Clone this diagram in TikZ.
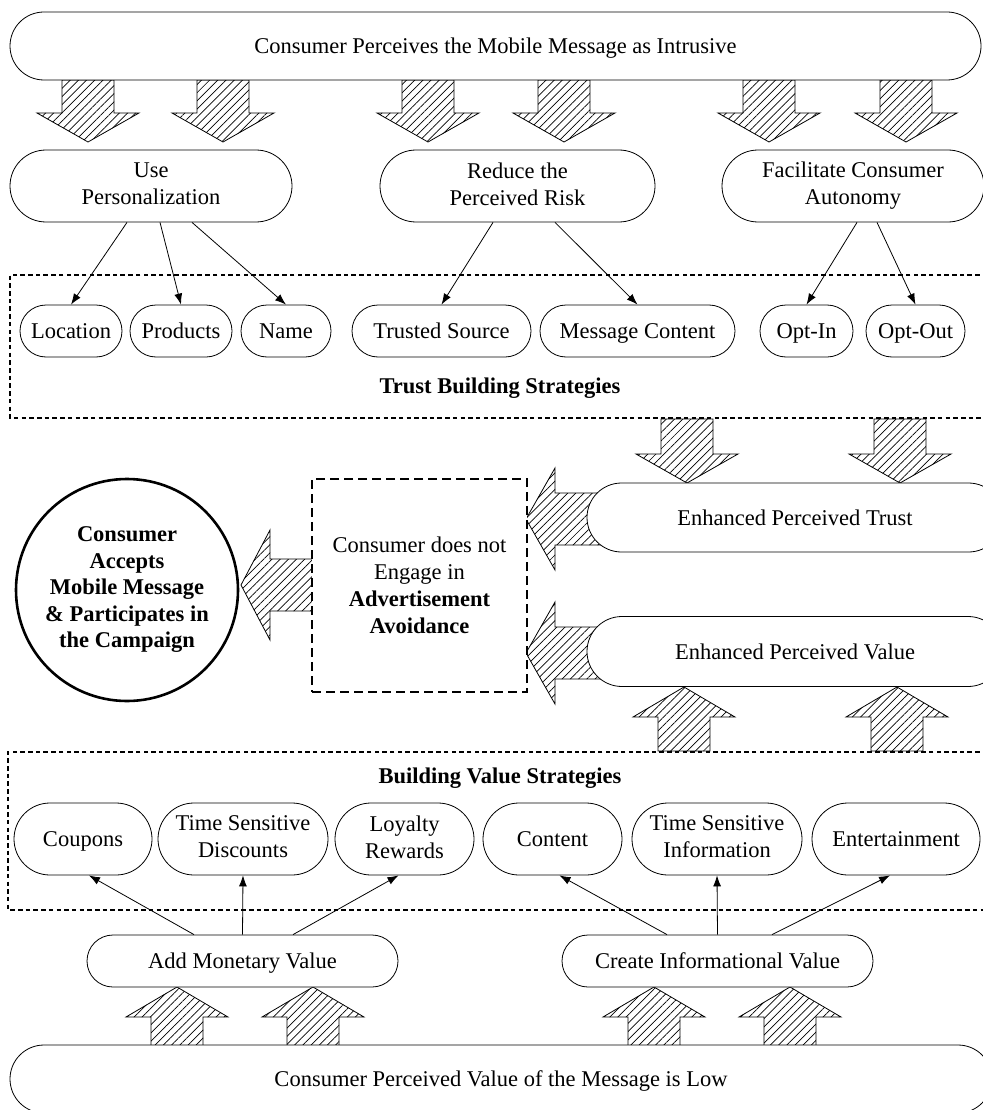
\documentclass[tikz,border=0pt]{standalone}
\usepackage{fontspec}
\setmainfont{Liberation Serif}
\usetikzlibrary{patterns.meta,arrows.meta,calc}
\newcommand\barrowdown[3]{\draw[blk] (#1-26,#3) -- (#1-26,#2-29) -- (#1-51,#2-29) -- (#1,#2) -- (#1+51,#2-29) -- (#1+26,#2-29) -- (#1+26,#3) -- cycle;}
\newcommand\barrowup[3]{\draw[blk] (#1-26,#3) -- (#1-26,#2+30) -- (#1-51,#2+30) -- (#1,#2) -- (#1+51,#2+30) -- (#1+26,#2+30) -- (#1+26,#3) -- cycle;}
\newcommand\barrowleft[4]{\draw[blk] (#3,#2-26) -- (#1+29,#2-26) -- (#1+29,#2-#4) -- (#1,#2) -- (#1+29,#2+#4) -- (#1+29,#2+26) -- (#3,#2+26) -- cycle;}
\newcommand\mystrut{\rule[-4pt]{0pt}{23pt}}
\begin{document}
\begin{tikzpicture}[x=1pt,y=-1pt,
  font=\fontsize{22.5}{27}\selectfont,
  blk/.style={draw, line width=0.8pt, pattern={Lines[angle=45,distance=5.8pt,line width=0.7pt]}},
  pill/.style={draw, fill=white, line width=0.8pt, align=center, inner sep=0pt, rounded corners=#1,
     execute at begin node=\mystrut, execute at end node=\mystrut},
  conn/.style={line width=0.8pt, -{Latex[length=11pt,width=8pt]}},
  dotbox/.style={line width=2.3pt, dash pattern=on 4.5pt off 3.2pt},
  lbl/.style={font=\fontsize{22.5}{27}\selectfont\bfseries}]
\useasboundingbox (0,0) rectangle (982,1110);

% dotted strategy boxes
\draw[dotbox] (995,275) -- (10,275) -- (10,418) -- (995,418);
\draw[dotbox] (995,752) -- (8,752) -- (8,910) -- (995,910);
\node[lbl] (tbs) at (500,388) {Trust Building Strategies};
\node[lbl] (bvs) at (500,778) {Building Value Strategies};

% block arrows
\barrowdown{88}{142}{80}
\barrowdown{223}{142}{80}
\barrowdown{428}{142}{80}
\barrowdown{564}{142}{80}
\barrowdown{769}{142}{80}
\barrowdown{906}{142}{80}
\barrowdown{687}{483}{419}
\barrowdown{900}{483}{419}
\barrowleft{526}{519}{610}{51}
\barrowleft{526}{653}{610}{51}
\barrowleft{241}{585}{313}{55}
\barrowup{684}{687}{751}
\barrowup{897}{687}{751}
\barrowup{177}{987}{1046}
\barrowup{313}{987}{1046}
\barrowup{654}{987}{1046}
\barrowup{790}{987}{1046}

% top
\node[pill=34, minimum width=971pt, minimum height=68pt] (top) at (495.5,46) {Consumer Perceives the Mobile Message as Intrusive};
\node[pill=36, minimum width=282pt, minimum height=72pt] (pers) at (151,186) {Use\\Personalization};
\node[pill=36, minimum width=275pt, minimum height=72pt] (risk) at (517.5,186) {Reduce the\\Perceived Risk};
\node[pill=36, minimum width=262pt, minimum height=72pt] (auto) at (853,186) {Facilitate Consumer\\Autonomy};

\node[pill=26, minimum width=102pt, minimum height=52pt] (loc) at (71,331) {Location};
\node[pill=26, minimum width=102pt, minimum height=52pt] (prod) at (181,331) {Products};
\node[pill=26, minimum width=90pt, minimum height=52pt] (name) at (286,331) {Name};
\node[pill=26, minimum width=179pt, minimum height=52pt] (trust) at (441.5,331) {Trusted Source};
\node[pill=26, minimum width=195pt, minimum height=52pt] (msg) at (637.5,331) {Message Content};
\node[pill=26, minimum width=93pt, minimum height=52pt] (optin) at (806.5,331) {Opt-In};
\node[pill=26, minimum width=99pt, minimum height=52pt] (optout) at (915.5,331) {Opt-Out};

\draw[conn] ($(pers.south)+(-24,0)$) -- (loc.north);
\draw[conn] ($(pers.south)+(9,0)$) -- (prod.north);
\draw[conn] ($(pers.south)+(41,0)$) -- (name.north);
\draw[conn] ($(risk.south)+(-24.5,0)$) -- (trust.north);
\draw[conn] ($(risk.south)+(37.5,0)$) -- (msg.north);
\draw[conn] ($(auto.south)+(4,0)$) -- (optin.north);
\draw[conn] ($(auto.south)+(24,0)$) -- (optout.north);

% middle
\node[pill=34.5, minimum width=416pt, minimum height=69pt] (ept) at (795,517.5) {Enhanced Perceived Trust};
\node[pill=35, minimum width=416pt, minimum height=70pt] (epv) at (795,651.5) {Enhanced Perceived Value};
\node[draw, fill=white, line width=1.1pt, dash pattern=on 9pt off 5pt, minimum width=215pt, minimum height=213pt, align=center, inner sep=0pt] (avoid) at (419.5,585.5) {Consumer does not\\Engage in\\\textbf{Advertisement}\\\textbf{Avoidance}};
\node[draw, circle, fill=white, line width=2.6pt, minimum size=222pt, inner sep=0pt, align=center, font=\fontsize{22.5}{26.5}\selectfont\bfseries] (accept) at (127,590) {Consumer\\Accepts\\Mobile Message\\\& Participates in\\the Campaign};

% value strategies
\node[pill=36, minimum width=138pt, minimum height=72pt] (coupons) at (83,839) {Coupons};
\node[pill=36, minimum width=170pt, minimum height=72pt] (tsd) at (243,839) {Time Sensitive\\Discounts};
\node[pill=36, minimum width=139pt, minimum height=72pt] (loyal) at (404.5,839) {Loyalty\\Rewards};
\node[pill=36, minimum width=139pt, minimum height=72pt] (content) at (552.5,839) {Content};
\node[pill=36, minimum width=170pt, minimum height=72pt] (tsi) at (717,839) {Time Sensitive\\Information};
\node[pill=36, minimum width=168pt, minimum height=72pt] (ent) at (896,839) {Entertainment};

\node[pill=26, minimum width=311pt, minimum height=52pt] (amv) at (242.5,961) {Add Monetary Value};
\node[pill=26, minimum width=311pt, minimum height=52pt] (civ) at (717.5,961) {Create Informational Value};

\draw[conn] ($(amv.north)+(-48.5,0)$) -- ($(coupons.south)+(6,0)$);
\draw[conn] (amv.north) -- (tsd.south);
\draw[conn] ($(amv.north)+(50.5,0)$) -- ($(loyal.south)+(-6,0)$);
\draw[conn] ($(civ.north)+(-50.5,0)$) -- ($(content.south)+(7,0)$);
\draw[conn] (civ.north) -- (tsi.south);
\draw[conn] ($(civ.north)+(54.5,0)$) -- ($(ent.south)+(-6,0)$);

\node[pill=34, minimum width=982pt, minimum height=68pt] (low) at (501,1079) {Consumer Perceived Value of the Message is Low};
\end{tikzpicture}
\end{document}
